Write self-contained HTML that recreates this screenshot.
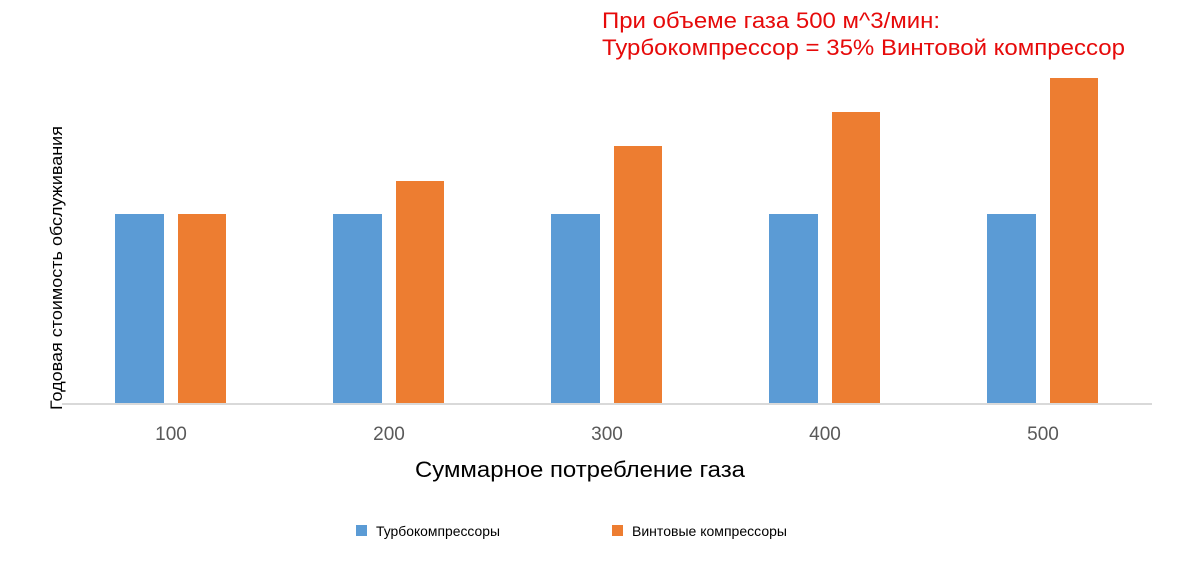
<!DOCTYPE html>
<html><head><meta charset="utf-8"><style>
html,body{margin:0;padding:0;background:#fff;}
svg{display:block;}
</style></head><body>
<svg width="1177" height="565" xmlns="http://www.w3.org/2000/svg" font-family="Liberation Sans, sans-serif">
<rect width="1177" height="565" fill="#fff"/>
<text x="602" y="28" font-size="22" fill="#e60a0a" textLength="338" lengthAdjust="spacingAndGlyphs">При объеме газа 500 м^3/мин:</text>
<text x="602" y="55" font-size="22" fill="#e60a0a" textLength="523" lengthAdjust="spacingAndGlyphs">Турбокомпрессор = 35% Винтовой компрессор</text>
<g fill="#5b9bd5">
<rect x="115" y="214" width="49" height="190"/>
<rect x="333" y="214" width="49" height="190"/>
<rect x="551" y="214" width="49" height="190"/>
<rect x="769" y="214" width="49" height="190"/>
<rect x="987" y="214" width="49" height="190"/>
</g>
<g fill="#ed7d31">
<rect x="178" y="214" width="48" height="190"/>
<rect x="396" y="181" width="48" height="223"/>
<rect x="614" y="146" width="48" height="258"/>
<rect x="832" y="112" width="48" height="292"/>
<rect x="1050" y="78" width="48" height="326"/>
</g>
<rect x="62" y="403" width="1090" height="2" fill="#d9d9d9"/>
<g font-size="19" fill="#595959" text-anchor="middle">
<text x="171" y="440">100</text>
<text x="389" y="440">200</text>
<text x="607" y="440">300</text>
<text x="825" y="440">400</text>
<text x="1043" y="440">500</text>
</g>
<text x="580" y="477" font-size="22" fill="#000" text-anchor="middle" textLength="330" lengthAdjust="spacingAndGlyphs">Суммарное потребление газа</text>
<text transform="translate(62,268) rotate(-90)" font-size="17" fill="#000" text-anchor="middle" textLength="284" lengthAdjust="spacingAndGlyphs">Годовая стоимость обслуживания</text>
<rect x="356" y="525" width="11" height="11" fill="#5b9bd5"/>
<text x="376" y="536" font-size="13.5" fill="#000" textLength="124" lengthAdjust="spacingAndGlyphs">Турбокомпрессоры</text>
<rect x="612" y="525" width="11" height="11" fill="#ed7d31"/>
<text x="632" y="536" font-size="13.5" fill="#000" textLength="155" lengthAdjust="spacingAndGlyphs">Винтовые компрессоры</text>
</svg>
</body></html>
